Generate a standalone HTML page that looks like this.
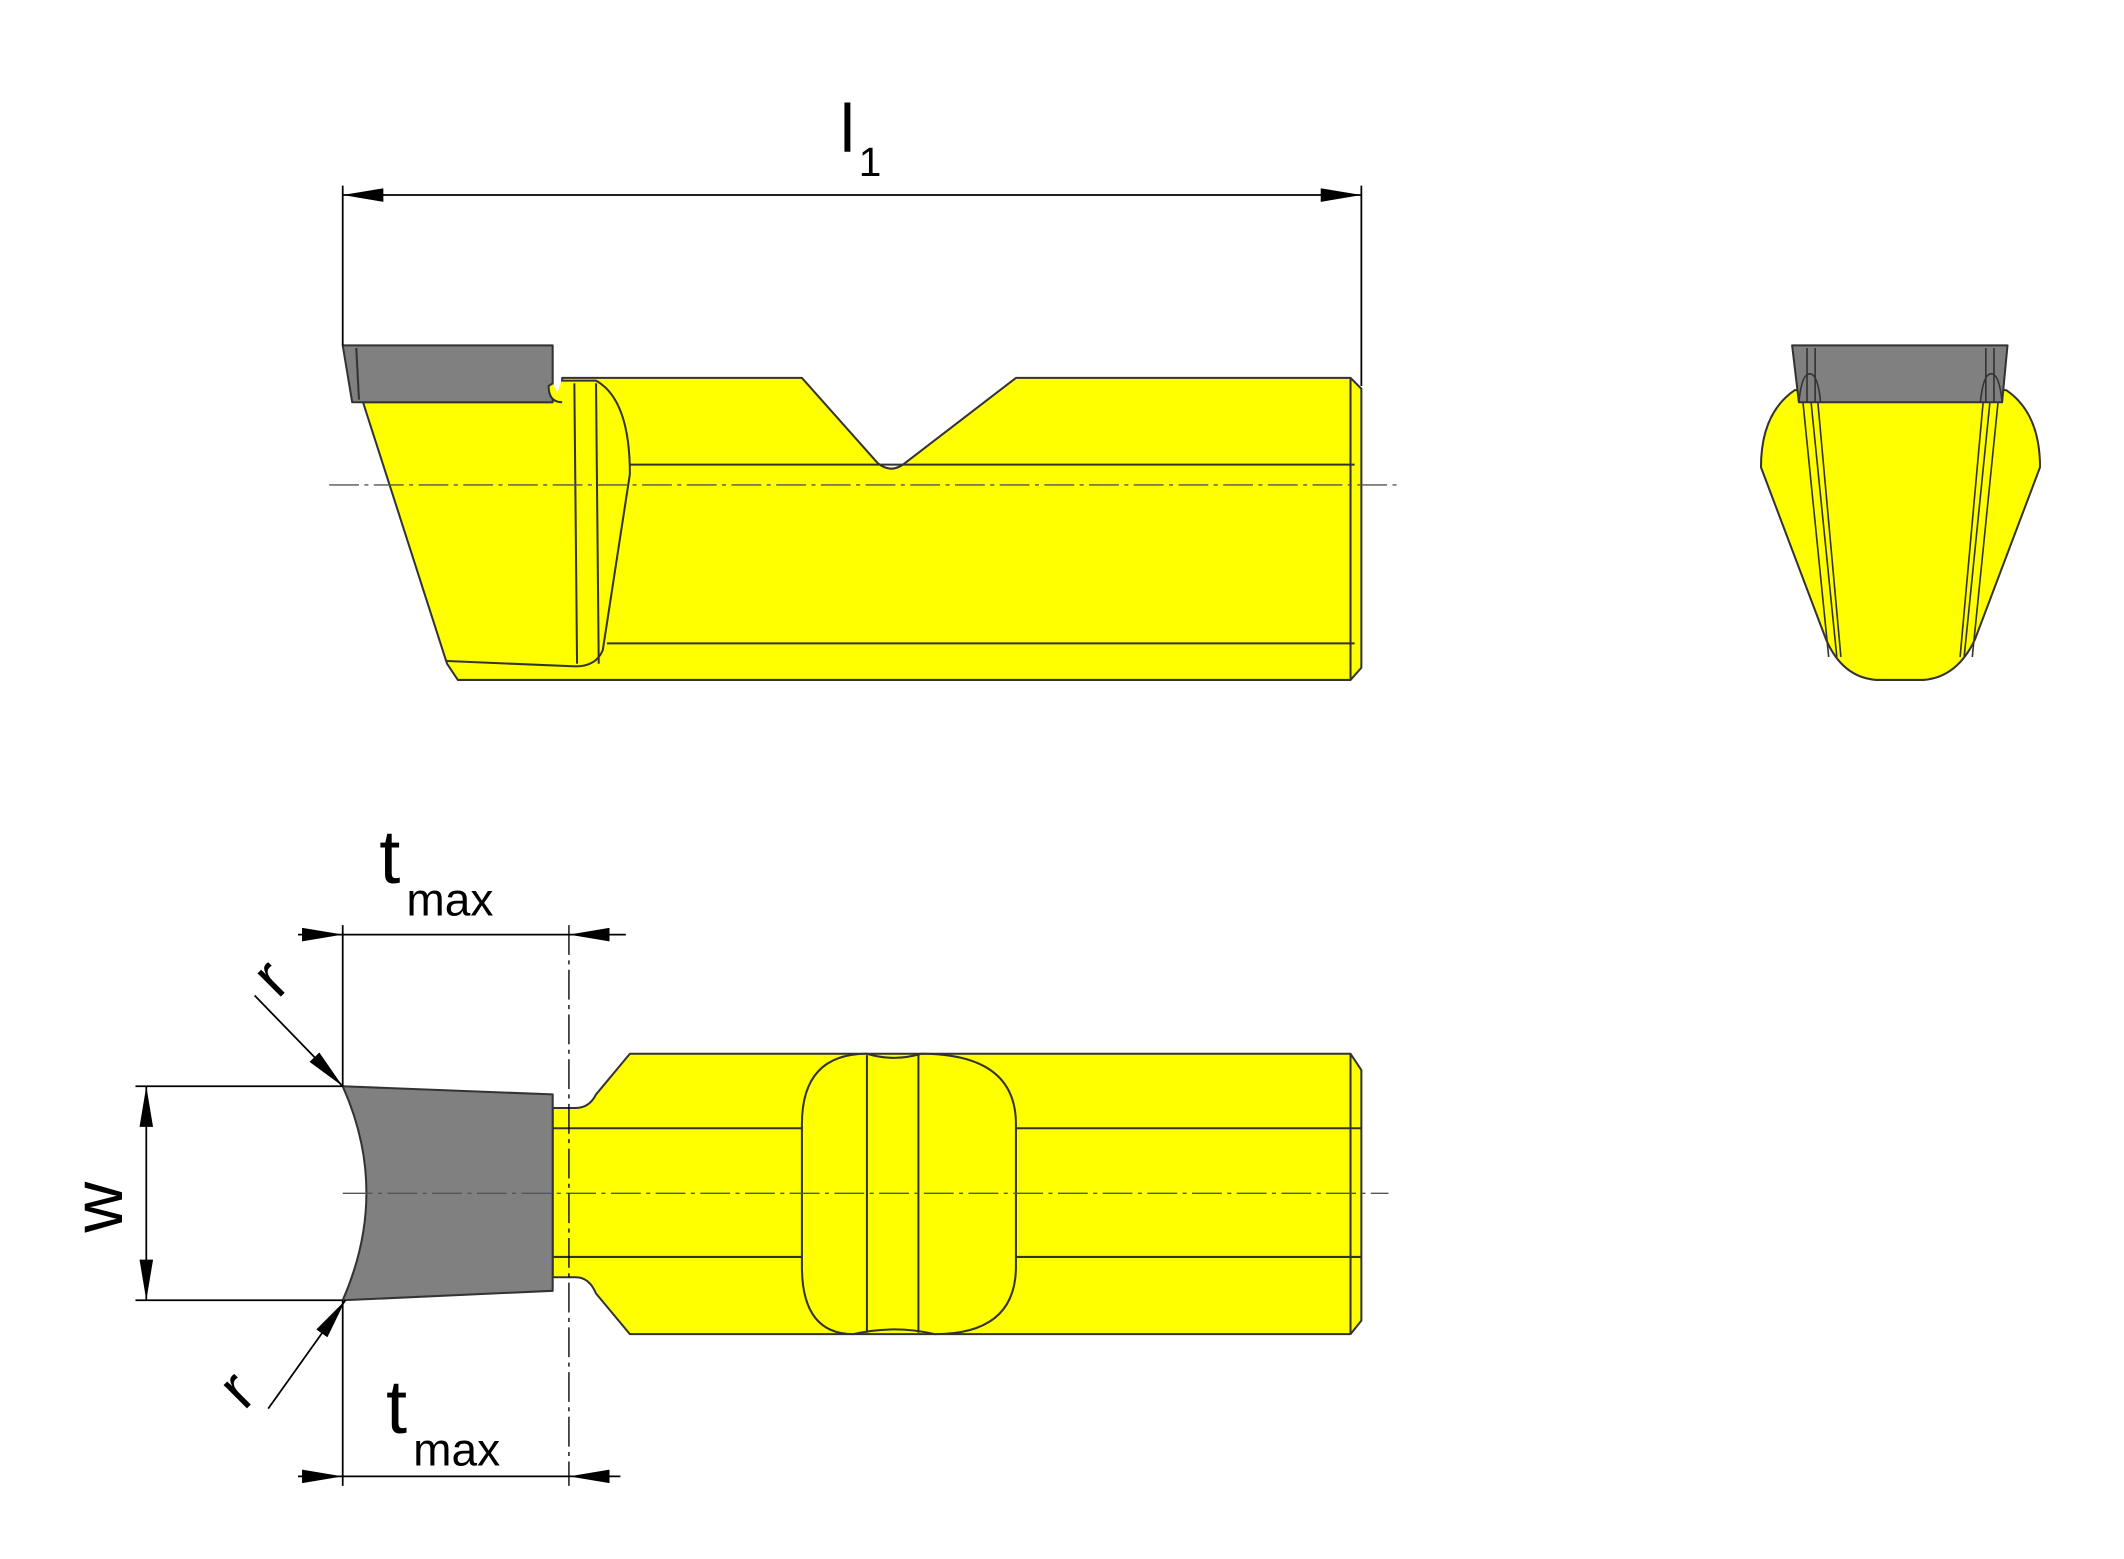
<!DOCTYPE html>
<html><head><meta charset="utf-8"><style>
html,body{margin:0;padding:0;background:#fff;}
svg{display:block;}
text{font-family:"Liberation Sans",sans-serif;fill:#000;}
</style></head><body>
<svg width="2124" height="1559" viewBox="0 0 1568 1151" preserveAspectRatio="none" xmlns="http://www.w3.org/2000/svg">
<defs>
<marker id="b" viewBox="0 0 30 10" refX="30" refY="5" markerWidth="30" markerHeight="10" orient="auto-start-reverse" markerUnits="userSpaceOnUse"><path d="M0,0 L30,5 L0,10 Z" fill="#000"/></marker>
</defs>
<g stroke="#333" stroke-width="1.5" stroke-linejoin="round">
<!-- TOP VIEW -->
<path d="M268,297 L415,297 L415,279 L592,279 L648,342 Q658,350 668,342 L750,279 L997,279 L1005,287 L1005,493 L997,502 L338,502 L330,490 Z" fill="#ffff00"/>
<path d="M415,281 L440,281 Q465,295 465,350 L445,480 Q440,492 425,492 L330,488" fill="#ffff00"/>
<line x1="424" y1="283" x2="426" y2="490" fill="none"/>
<line x1="440" y1="283" x2="442" y2="490" fill="none"/>
<line x1="465" y1="343" x2="1000" y2="343"/>
<line x1="448" y1="475" x2="1000" y2="475"/>
<line x1="997" y1="279" x2="997" y2="502"/>
<path d="M253,255 L408,255 L408,297 L260,297 Z" fill="#808080"/>
<path d="M408,283 L405,285 Q405,297 415,297" fill="#ffff00"/>
<line x1="263" y1="257" x2="265" y2="295"/>
<line x1="243" y1="358" x2="1032" y2="358" stroke="#555" stroke-width="1" stroke-dasharray="22,4,3,4"/>

<!-- SIDE VIEW -->
<path d="M1325,288 Q1300,305 1300,345 L1348,472 Q1360,500 1385,502 L1420,502 Q1445,500 1458,472 L1506,345 Q1506,305 1481,288 Z" fill="#ffff00"/>
<path d="M1331,297 L1350,485 M1337,297 L1356,485 M1342,297 L1359,485 M1475,297 L1456,485 M1469,297 L1450,485 M1464,297 L1447,485" fill="none" stroke-width="1.2"/>
<path d="M1323,255 L1482,255 L1478,297 L1328,297 Z" fill="#808080"/>
<path d="M1328,297 Q1330,276 1336,276 Q1342,276 1344,297 M1462,297 Q1464,276 1470,276 Q1476,276 1478,297 M1334,257 L1334,297 M1340,257 L1340,297 M1466,257 L1466,297 M1472,257 L1472,297" fill="none" stroke-width="1.2"/>

<!-- BOTTOM VIEW -->
<path d="M408,818 L425,818 Q435,818 440,808 L465,778 L997,778 L1005,790 L1005,975 L997,985 L465,985 L440,955 Q435,943 425,943 L408,943 Z" fill="#ffff00"/>
<line x1="408" y1="833" x2="1005" y2="833"/>
<line x1="408" y1="928" x2="1005" y2="928"/>
<line x1="997" y1="778" x2="997" y2="985"/>
<path d="M640,778 Q660,784 680,778 Q750,778 750,830 L750,935 Q750,985 690,985 Q660,978 630,985 Q592,985 592,935 L592,830 Q592,778 640,778 Z" fill="#ffff00"/>
<line x1="640" y1="779" x2="640" y2="984"/>
<line x1="678" y1="779" x2="678" y2="984"/>
<path d="M253,802 L408,808 L408,953 L253,960 Q288,880 253,802 Z" fill="#808080"/>
<line x1="253" y1="881" x2="1025" y2="881" stroke="#555" stroke-width="1" stroke-dasharray="22,4,3,4"/>
</g>

<!-- DIMENSIONS -->
<g stroke="#000" stroke-width="1.3" fill="none">
<line x1="253" y1="137" x2="253" y2="255"/>
<line x1="1005" y1="137" x2="1005" y2="285"/>
<line x1="253" y1="144" x2="1005" y2="144" marker-start="url(#b)" marker-end="url(#b)"/>
<line x1="253" y1="683" x2="253" y2="802"/>
<line x1="420" y1="683" x2="420" y2="1097" stroke-dasharray="22,4,3,4" stroke-width="1"/>
<line x1="220" y1="690" x2="253" y2="690" marker-end="url(#b)"/>
<line x1="253" y1="690" x2="420" y2="690"/>
<line x1="462" y1="690" x2="420" y2="690" marker-end="url(#b)"/>
<line x1="253" y1="960" x2="253" y2="1097"/>
<line x1="220" y1="1090" x2="253" y2="1090" marker-end="url(#b)"/>
<line x1="253" y1="1090" x2="420" y2="1090"/>
<line x1="458" y1="1090" x2="420" y2="1090" marker-end="url(#b)"/>
<line x1="100" y1="802" x2="253" y2="802"/>
<line x1="100" y1="960" x2="253" y2="960"/>
<line x1="108" y1="802" x2="108" y2="960" marker-start="url(#b)" marker-end="url(#b)"/>
<line x1="188" y1="735" x2="253" y2="802" marker-end="url(#b)"/>
<line x1="198" y1="1040" x2="255" y2="960" marker-end="url(#b)"/>
</g>
<text x="620" y="112" font-size="50">l</text>
<text x="634" y="130" font-size="30">1</text>
<text x="280" y="652" font-size="56">t</text>
<text x="300" y="676" font-size="34">max</text>
<text x="285" y="1058" font-size="56">t</text>
<text x="305" y="1082" font-size="34">max</text>
<text x="0" y="0" font-size="52" transform="translate(90,910) rotate(-90)">w</text>
<text x="0" y="0" font-size="46" transform="translate(205,738) rotate(-45)">r</text>
<text x="0" y="0" font-size="46" transform="translate(180,1042) rotate(-45)">r</text>
</svg>
</body></html>
